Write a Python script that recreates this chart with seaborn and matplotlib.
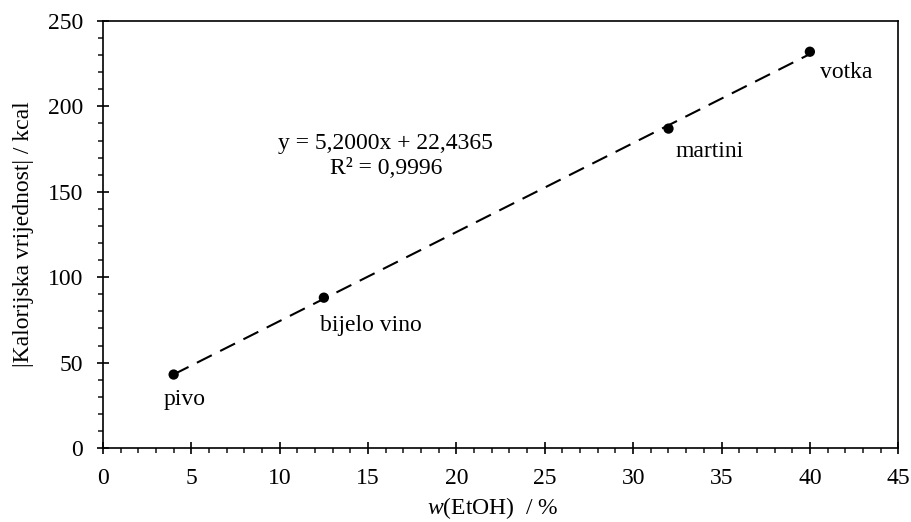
import matplotlib
matplotlib.use("Agg")
import matplotlib.pyplot as plt
from matplotlib.ticker import MultipleLocator
import seaborn as sns
import numpy as np
import pandas as pd

drinks = ["pivo", "bijelo vino", "martini", "votka"]
w_etoh = [4.0, 12.5, 32.0, 40.0]
kcal = [43.0, 88.0, 187.0, 232.0]
label_offsets = [(-10, -25), (-4, -28), (7, -23), (10, -21)]
eq_text = "y = 5,2000x + 22,4365\nR² = 0,9996"

sns.set_theme(style="ticks")
plt.rcParams['font.family'] = ['Liberation Serif', 'DejaVu Serif']
plt.rcParams['mathtext.fontset'] = 'custom'
plt.rcParams['mathtext.it'] = 'Liberation Serif:italic'
plt.rcParams['mathtext.rm'] = 'Liberation Serif'

FS = 17

df = pd.DataFrame({"w": w_etoh, "kcal": kcal, "drink": drinks})

fig = plt.figure(figsize=(9.11, 5.22), dpi=100)
ax = fig.add_axes([0.113, 0.1418, 0.873, 0.818])

sns.regplot(data=df, x="w", y="kcal", ax=ax, ci=None, truncate=True,
            scatter_kws=dict(s=55, color="black", alpha=1, zorder=3, edgecolor="none"),
            line_kws=dict(color="black", lw=1.5, dashes=(8, 4.5)))

for d, x, y, off in zip(drinks, w_etoh, kcal, label_offsets):
    ax.annotate(d, (x, y), xytext=off, textcoords="offset pixels",
                ha="left", va="center", fontsize=FS, color="black")

ax.text(16.0, 171, eq_text, ha="center", va="center", fontsize=FS,
        multialignment="center", color="black", linespacing=1.25)

ax.set_xlim(0, 45)
ax.set_ylim(0, 250)
ax.xaxis.set_major_locator(MultipleLocator(5))
ax.xaxis.set_minor_locator(MultipleLocator(1))
ax.yaxis.set_major_locator(MultipleLocator(50))
ax.yaxis.set_minor_locator(MultipleLocator(10))
ax.tick_params(which="major", direction="inout", length=9, width=1.2,
               labelsize=FS, colors="black")
ax.tick_params(axis="x", which="major", pad=10)
ax.tick_params(axis="y", which="major", pad=10)
ax.tick_params(which="minor", direction="out", length=3.5, width=1.2)
for s in ax.spines.values():
    s.set_linewidth(1.2)
    s.set_color("black")
    s.set_visible(True)

ax.set_xlabel(r"$\mathit{w}$(EtOH)  / %", fontsize=FS, color="black", labelpad=4)
ax.xaxis.label.set_x(0.49)
ax.set_ylabel("|Kalorijska vrijednost| / kcal", fontsize=FS, color="black", labelpad=10)

fig.savefig("out.png", dpi=100)
